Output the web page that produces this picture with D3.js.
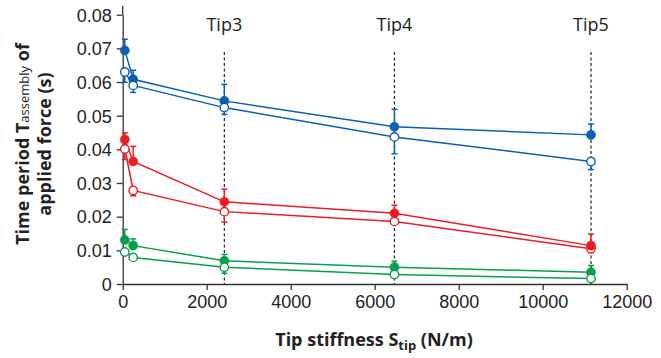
<!DOCTYPE html>
<html>
<head>
<meta charset="utf-8">
<script src="https://cdn.jsdelivr.net/npm/d3@7"></script>
<style>
  body { margin: 0; background: #fff; }
  svg { display: block; font-family: "Open Sans", "Noto Sans", sans-serif; }
</style>
</head>
<body>
<svg width="661" height="358"></svg>
<script>
// tip stiffness (N/m) for each measurement
var stiffness = [50, 250, 2420, 6470, 11150];

// tip marker lines
var tipNames = ["Tip3", "Tip4", "Tip5"];
var tipStiffness = [2420, 6470, 11150];

// series: filled (upper error bar) and open (lower error bar)
var blueFilled = [0.0694, 0.0608, 0.0544, 0.0467, 0.0443];
var blueFilledErr = [0.0033, 0.0027, 0.0049, 0.0052, 0.0032];
var blueOpen = [0.0630, 0.0590, 0.0524, 0.0437, 0.0364];
var blueOpenErr = [0.0031, 0.0021, 0.0020, 0.0050, 0.0024];

var redFilled = [0.0429, 0.0364, 0.0244, 0.0210, 0.0114];
var redFilledErr = [0.0020, 0.0045, 0.0038, 0.0024, 0.0034];
var redOpen = [0.0401, 0.0278, 0.0215, 0.0186, 0.0105];
var redOpenErr = [0.0031, 0.0016, 0.0031, 0.0008, 0.0012];

var greenFilled = [0.0131, 0.0114, 0.0069, 0.0050, 0.0035];
var greenFilledErr = [0.0031, 0.0020, 0.0019, 0.0018, 0.0020];
var greenOpen = [0.0095, 0.0079, 0.0050, 0.0028, 0.0016];
var greenOpenErr = [0.0006, 0.0004, 0.0018, 0.0004, 0.0004];

var xTicks = [0, 2000, 4000, 6000, 8000, 10000, 12000];
var yTicks = [0, 0.01, 0.02, 0.03, 0.04, 0.05, 0.06, 0.07, 0.08];

var series = [
  {color: "#0b5fb0", filled: true, v: blueFilled, e: blueFilledErr},
  {color: "#0b5fb0", filled: false, v: blueOpen, e: blueOpenErr},
  {color: "#ec1c24", filled: false, v: redOpen, e: redOpenErr},
  {color: "#ec1c24", filled: true, v: redFilled, e: redFilledErr},
  {color: "#07a04a", filled: true, v: greenFilled, e: greenFilledErr},
  {color: "#07a04a", filled: false, v: greenOpen, e: greenOpenErr}
];

var svg = d3.select("svg");

var x = d3.scaleLinear().domain([0, 12000]).range([122.7, 626.7]);
var y = d3.scaleLinear().domain([0, 0.08]).range([284, 14.7]);

// axes
var xAxis = svg.append("g")
  .attr("transform", "translate(0," + y(0) + ")")
  .call(d3.axisBottom(x).tickValues(xTicks).tickSize(6).tickSizeOuter(0).tickFormat(d3.format("d")));
var yAxis = svg.append("g")
  .attr("transform", "translate(" + x(0) + ",0)")
  .call(d3.axisLeft(y).tickValues(yTicks).tickSize(6).tickSizeOuter(0)
    .tickFormat(function(d) { return d === 0 ? "0" : d3.format(".2f")(d); }));

[xAxis, yAxis].forEach(function(a) {
  a.selectAll("path, line").attr("stroke", "#333").attr("stroke-width", 1.3);
  a.selectAll("text").attr("fill", "#222").style("font-size", "18px");
});
xAxis.selectAll("text").attr("dy", "0.85em");
yAxis.selectAll("text").attr("x", -11).attr("dy", "0.35em");

// y axis runs a bit above the top tick
svg.append("line")
  .attr("x1", x(0)).attr("x2", x(0))
  .attr("y1", y(0.08)).attr("y2", y(0.08) - 9)
  .attr("stroke", "#333").attr("stroke-width", 1.3);

// dashed tip lines
var tips = svg.append("g");
tipStiffness.forEach(function(s, i) {
  tips.append("line")
    .attr("x1", x(s)).attr("x2", x(s))
    .attr("y1", 52).attr("y2", y(0))
    .attr("stroke", "#222").attr("stroke-width", 1.2)
    .attr("stroke-dasharray", "3,2.5");
  tips.append("text")
    .attr("x", x(s)).attr("y", 31)
    .attr("text-anchor", "middle")
    .style("font-size", "18px")
    .attr("fill", "#222")
    .text(tipNames[i]);
});

var line = d3.line()
  .x(function(d, i) { return x(stiffness[i]); })
  .y(function(d) { return y(d); });

// lines first
series.forEach(function(s) {
  svg.append("path")
    .attr("d", line(s.v))
    .attr("fill", "none")
    .attr("stroke", s.color)
    .attr("stroke-width", 1.5);
});

// error bars and markers
series.forEach(function(s) {
  var g = svg.append("g");
  s.v.forEach(function(v, i) {
    var cx = x(stiffness[i]);
    var end = s.filled ? v + s.e[i] : v - s.e[i];
    g.append("line")
      .attr("x1", cx).attr("x2", cx)
      .attr("y1", y(v)).attr("y2", y(end))
      .attr("stroke", s.color).attr("stroke-width", 1.5);
    g.append("line")
      .attr("x1", cx - 3).attr("x2", cx + 3)
      .attr("y1", y(end)).attr("y2", y(end))
      .attr("stroke", s.color).attr("stroke-width", 1.5);
  });
  g.selectAll("circle")
    .data(s.v)
    .enter()
    .append("circle")
    .attr("cx", function(d, i) { return x(stiffness[i]); })
    .attr("cy", function(d) { return y(d); })
    .attr("r", s.filled ? 4.6 : 4.2)
    .attr("fill", s.filled ? s.color : "#fff")
    .attr("stroke", s.color)
    .attr("stroke-width", s.filled ? 0.5 : 1.4);
});

// axis titles
var yt = svg.append("text")
  .attr("transform", "translate(29,144) rotate(-90)")
  .attr("text-anchor", "middle")
  .style("font-size", "18px")
  .style("font-weight", "bold")
  .attr("fill", "#222");
yt.append("tspan").attr("x", 0).attr("dy", 0).text("Time period T");
yt.append("tspan").style("font-size", "13px").style("font-weight", "normal").text("assembly");
yt.append("tspan").text(" of");
yt.append("tspan").attr("x", 0).attr("dy", 22).text("applied force (s)");

var xt = svg.append("text")
  .attr("x", 374).attr("y", 346)
  .attr("text-anchor", "middle")
  .style("font-size", "18px")
  .style("font-weight", "bold")
  .attr("fill", "#222");
xt.append("tspan").text("Tip stiffness S");
xt.append("tspan").attr("dy", 4).style("font-size", "13px").text("tip");
xt.append("tspan").attr("dy", -4).text(" (N/m)");
</script>
</body>
</html>
